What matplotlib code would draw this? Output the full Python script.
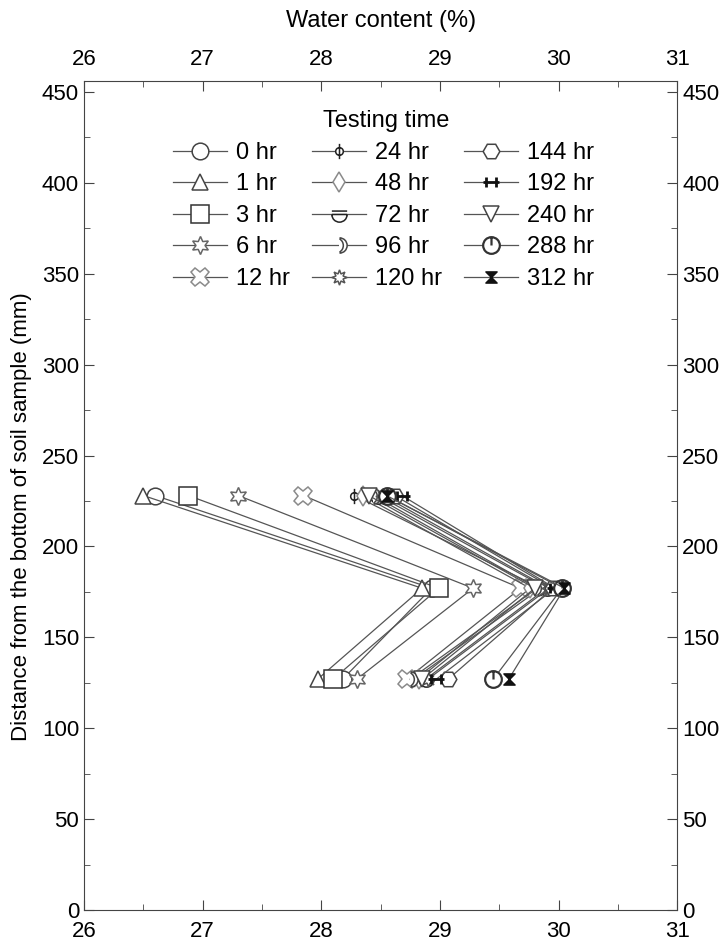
import numpy as np
import matplotlib.pyplot as plt
from matplotlib.path import Path
from matplotlib.transforms import Affine2D

plt.rcParams['font.family'] = ['Liberation Sans', 'DejaVu Sans']

# Sensor heights above the base of the sample (mm)
heights = [228, 177, 127]

# Water content (%) at the three heights for each testing time
hours = [0, 1, 3, 6, 12, 24, 48, 72, 96, 120, 144, 192, 240, 288, 312]
w_0 = [26.60, 28.93, 28.18]
w_1 = [26.50, 28.85, 27.97]
w_3 = [26.88, 28.99, 28.10]
w_6 = [27.30, 29.28, 28.30]
w_12 = [27.85, 29.68, 28.72]
w_24 = [28.28, 29.85, 28.78]
w_48 = [28.35, 29.76, 28.82]
w_72 = [28.48, 29.90, 28.88]
w_96 = [28.44, 29.82, 28.75]
w_120 = [28.52, 29.92, 28.90]
w_144 = [28.62, 29.95, 29.07]
w_192 = [28.68, 29.97, 28.97]
w_240 = [28.40, 29.80, 28.85]
w_288 = [28.55, 30.03, 29.45]
w_312 = [28.55, 30.05, 29.58]
series = [w_0, w_1, w_3, w_6, w_12, w_24, w_48, w_72, w_96, w_120,
          w_144, w_192, w_240, w_288, w_312]


def segs(*pairs):
    verts, codes = [], []
    for a, b in pairs:
        verts += [a, b]
        codes += [Path.MOVETO, Path.LINETO]
    return Path(verts, codes)


# custom open markers
circ = Path.unit_circle()
m_phi = Path.make_compound_path(circ.transformed(Affine2D().scale(0.8)),
                                segs(((0, -1.6), (0, 1.6))))
m_half = Path.make_compound_path(Path.arc(180, 360),
                                 segs(((-1, 0), (1, 0)), ((-1, 0.45), (1, 0.45))))
m_moon = Path.make_compound_path(Path.arc(-90, 90),
                                 Path.arc(-60, 60).transformed(Affine2D().translate(-0.5, 0)))
m_bar = segs(((-1, 0), (1, 0)), ((-0.6, -0.55), (-0.6, 0.55)), ((0.6, -0.55), (0.6, 0.55)))
m_power = Path.make_compound_path(circ, segs(((0, 1), (0, 0))))
m_glass = Path([(-1, 1), (1, 1), (-1, -1), (1, -1), (-1, 1)],
               [Path.MOVETO, Path.LINETO, Path.LINETO, Path.LINETO, Path.CLOSEPOLY])

styles = [
    dict(marker='o', ms=12, mec='#444444'),
    dict(marker='^', ms=12, mec='#444444'),
    dict(marker='s', ms=13, mec='#333333'),
    dict(marker=(6, 1, 0), ms=13, mec='#666666'),
    dict(marker='X', ms=13, mec='#8a8a8a'),
    dict(marker=m_phi, ms=11, mec='#222222'),
    dict(marker='d', ms=10, mec='#8a8a8a'),
    dict(marker=m_half, ms=11, mec='#222222'),
    dict(marker=m_moon, ms=11, mec='#444444'),
    dict(marker=(8, 1, 0), ms=11, mec='#555555'),
    dict(marker='H', ms=12, mec='#444444'),
    dict(marker=m_bar, ms=12, mec='#111111', mew=2),
    dict(marker='v', ms=12, mec='#444444'),
    dict(marker=m_power, ms=12, mec='#333333', mew=1.6),
    dict(marker=m_glass, ms=8, mec='#111111', mfc='#111111'),
]

fig = plt.figure(figsize=(7.27, 9.47), dpi=100)
ax = fig.add_axes([0.1155, 0.039, 0.816, 0.8755])

for h, vals, st in zip(hours, series, styles):
    kw = dict(mfc='white', mew=1.1)
    kw.update(st)
    ax.plot(vals, heights, color='#555555', lw=0.9, label=f'{h} hr', **kw)

ax.set_xlim(26, 31)
ax.set_ylim(0, 456)
ax.set_xticks(np.arange(26, 31.1, 1))
ax.set_xticks(np.arange(26.5, 31, 1), minor=True)
ax.set_yticks(np.arange(0, 451, 50))
ax.set_yticks(np.arange(25, 451, 50), minor=True)
ax.tick_params(which='both', direction='in', top=True, right=True,
               labeltop=True, labelright=True, labelsize=16, color='#444444')
ax.tick_params(which='major', length=7)
ax.tick_params(which='minor', length=4)
ax.tick_params(axis='x', which='major', pad=8)
for s in ax.spines.values():
    s.set_color('#444444')

ax.set_xlabel('Water content (%)', fontsize=17, labelpad=16)
ax.xaxis.set_label_position('top')
ax.set_ylabel('Distance from the bottom of soil sample (mm)', fontsize=16)
ax.yaxis.set_label_coords(-0.088, 0.475)

ax.legend(ncol=3, loc='upper center', bbox_to_anchor=(0.505, 0.952),
          frameon=False, fontsize=17, handlelength=2.3, columnspacing=0.9,
          handletextpad=0.4, labelspacing=0.4)
ax.text(0.51, 0.939, 'Testing time', transform=ax.transAxes, ha='center',
        va='bottom', fontsize=17)

fig.savefig('out.png', dpi=100)
